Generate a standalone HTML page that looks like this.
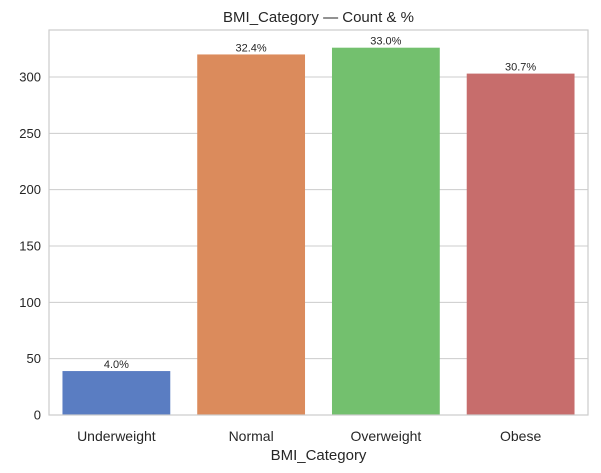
<!DOCTYPE html>
<html><head><meta charset="utf-8"><style>
body{margin:0;background:#fff;font-family:"Liberation Sans","DejaVu Sans",sans-serif;}
svg{display:block}
</style></head><body>
<svg id="chart" width="601" height="473"></svg>
<script>
const categories=["Underweight","Normal","Overweight","Obese"];
const counts=[39,320,326,303];
const pctLabels=["4.0%","32.4%","33.0%","30.7%"];
const yTicks=[0,50,100,150,200,250,300];
const colors=["#5a7dc2","#db8b5c","#73c06e","#c76d6c"];
const NS="http://www.w3.org/2000/svg";
const svg=document.getElementById("chart");
const L=49,R=588,T=30,B=415,YMAX=341.7;
const y=v=>B-(v/YMAX)*(B-T);
const band=(R-L)/categories.length;
const x=i=>L+band*i+band*0.1;
function mk(tag,attrs,txt){const e=document.createElementNS(NS,tag);for(const k in attrs)e.setAttribute(k,attrs[k]);if(txt!==undefined)e.textContent=txt;svg.appendChild(e);return e;}
yTicks.forEach(t=>{
 const g=mk("line",{x1:L,x2:R,y1:y(t),y2:y(t),stroke:"#cccccc","stroke-width":1});
 
 
 const lb=mk("text",{x:L-8,y:y(t)+4.5,"text-anchor":"end","font-size":13,fill:"#262626"},t);
 
 
});
categories.forEach((c,i)=>{
 const r=mk("rect",{x:x(i),y:y(counts[i]),width:band*0.8,height:B-y(counts[i]),fill:colors[i]});
 
 
 const p=mk("text",{x:x(i)+band*0.4,y:y(counts[i])-3,"text-anchor":"middle","font-size":11,fill:"#262626"},pctLabels[i]);
 
 
 const xl=mk("text",{x:x(i)+band*0.4,y:B+26,"text-anchor":"middle","font-size":14,fill:"#262626"},c);
 
 
});
const fr=mk("rect",{x:L,y:T,width:R-L,height:B-T,fill:"none",stroke:"#cccccc","stroke-width":1.2});


const ti=mk("text",{x:(L+R)/2,y:22,"text-anchor":"middle","font-size":15,fill:"#262626"},"BMI_Category — Count & %");


const xt=mk("text",{x:(L+R)/2,y:460,"text-anchor":"middle","font-size":15,fill:"#262626"},"BMI_Category");


</script>
</body></html>
